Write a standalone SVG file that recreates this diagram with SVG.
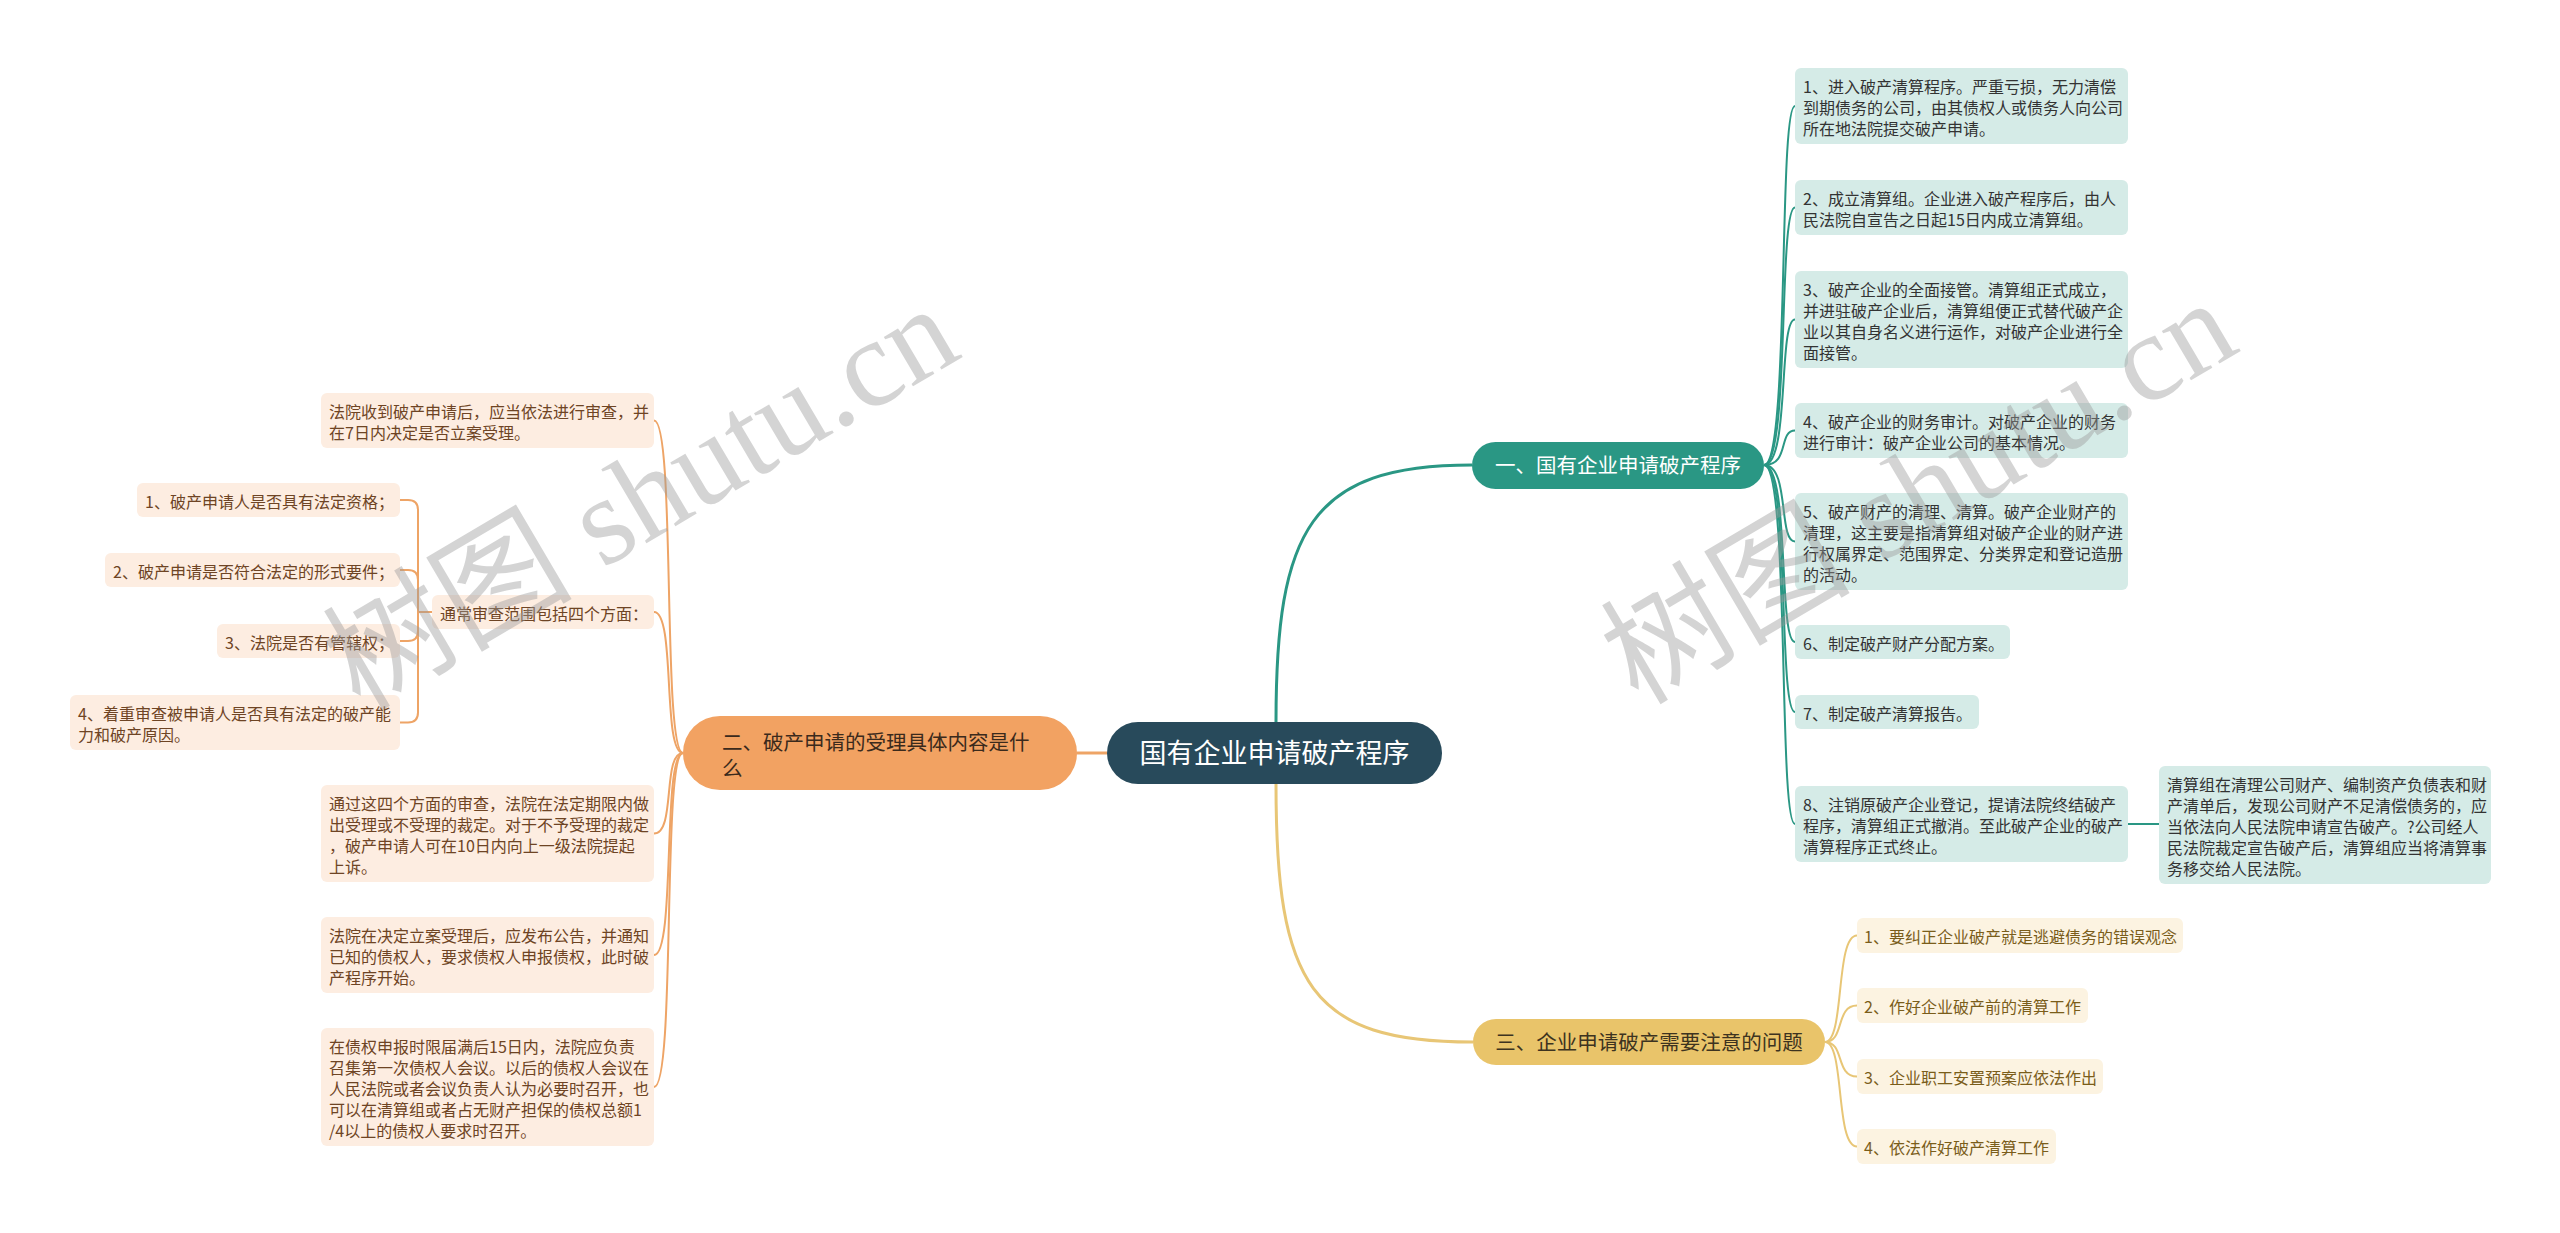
<svg xmlns="http://www.w3.org/2000/svg" width="2560" height="1233" viewBox="0 0 2560 1233">
<style>
text{font-family:"Noto Sans CJK SC","Noto Sans",sans-serif}
.t{font-size:16px}
.tr{fill:#333333}
.tl{fill:#6e4424}
.tg{fill:#7a5d1a}
.br{font-size:20.5px}
.fr{fill:#d5ebe7}
.fl{fill:#fdede1}
.fg{fill:#fcf3e1}
.ct{fill:none;stroke:#2a9784;stroke-width:2}
.co{fill:none;stroke:#eea466;stroke-width:2}
.cg{fill:none;stroke:#e8c676;stroke-width:2}
.wm{font-family:"Liberation Serif","Noto Sans CJK SC",serif;font-size:125px;fill:#9a9a9a;opacity:0.42}
</style>
<rect width="2560" height="1233" fill="#ffffff"/>
<g id="connectors">
<path d="M1276 722 C1276 530 1310 465 1472 465" fill="none" stroke="#2a9784" stroke-width="3"/>
<path d="M1276 784 C1276 985 1310 1042 1473 1042" fill="none" stroke="#e8c676" stroke-width="3"/>
<path d="M1107 753 L1077 753" fill="none" stroke="#eea466" stroke-width="3"/>
<path class="ct" d="M1764 465 C1790 465 1778 106 1795 106"/>
<path class="ct" d="M1764 465 C1790 465 1778 207.5 1795 207.5"/>
<path class="ct" d="M1764 465 C1790 465 1778 319.5 1795 319.5"/>
<path class="ct" d="M1764 465 C1790 465 1778 430.5 1795 430.5"/>
<path class="ct" d="M1764 465 C1790 465 1778 541.5 1795 541.5"/>
<path class="ct" d="M1764 465 C1790 465 1778 642 1795 642"/>
<path class="ct" d="M1764 465 C1790 465 1778 712 1795 712"/>
<path class="ct" d="M1764 465 C1790 465 1778 824 1795 824"/>
<path class="ct" d="M2128 824 L2159 824" stroke-width="3"/>
<path class="cg" d="M1825 1042 C1845 1042 1835 935.5 1857 935.5"/>
<path class="cg" d="M1825 1042 C1845 1042 1835 1005.5 1857 1005.5"/>
<path class="cg" d="M1825 1042 C1845 1042 1835 1076.5 1857 1076.5"/>
<path class="cg" d="M1825 1042 C1845 1042 1835 1146.5 1857 1146.5"/>
<path class="co" d="M683 753 C662 753 676 420.5 654 420.5"/>
<path class="co" d="M683 753 C662 753 676 612 654 612"/>
<path class="co" d="M683 753 C662 753 676 833.5 654 833.5"/>
<path class="co" d="M683 753 C662 753 676 955 654 955"/>
<path class="co" d="M683 753 C662 753 676 1087 654 1087"/>
<path class="co" d="M432 612 L418 612"/>
<path class="co" d="M418 612 L418 510 Q418 500 408 500 L400 500"/>
<path class="co" d="M418 612 L418 580 Q418 570 408 570 L400 570"/>
<path class="co" d="M418 612 L418 631 Q418 641 408 641 L400 641"/>
<path class="co" d="M418 612 L418 712.5 Q418 722.5 408 722.5 L400 722.5"/>
</g>
<g id="center">
<rect x="1107" y="722" width="335" height="62" rx="31" fill="#284a5b"/>
<text x="1274.5" y="763" font-size="27" fill="#ffffff" text-anchor="middle">国有企业申请破产程序</text>
</g>
<g id="branch1">
<rect x="1472" y="442" width="292" height="47" rx="23.5" fill="#2a9784"/>
<text class="br" x="1618" y="472.5" fill="#ffffff" text-anchor="middle">一、国有企业申请破产程序</text>
</g>
<g id="branch2">
<rect x="683" y="716" width="394" height="74" rx="37" fill="#f2a262"/>
<text class="br" fill="#3b2a1c"><tspan x="722" y="749.5">二、破产申请的受理具体内容是什</tspan><tspan x="722" y="776">么</tspan></text>
</g>
<g id="branch3">
<rect x="1473" y="1019" width="352" height="46" rx="23" fill="#e9c46a"/>
<text class="br" x="1649" y="1049.5" fill="#3d3320" text-anchor="middle">三、企业申请破产需要注意的问题</text>
</g>
<g id="r1"><rect class="fr" x="1795" y="68" width="333" height="76" rx="6"/><text class="t tr"><tspan x="1803" y="92.5">1、进入破产清算程序。严重亏损，无力清偿</tspan><tspan x="1803" y="113.5">到期债务的公司，由其债权人或债务人向公司</tspan><tspan x="1803" y="134.5">所在地法院提交破产申请。</tspan></text></g>
<g id="r2"><rect class="fr" x="1795" y="180" width="333" height="55" rx="6"/><text class="t tr"><tspan x="1803" y="204.5">2、成立清算组。企业进入破产程序后，由人</tspan><tspan x="1803" y="225.5">民法院自宣告之日起15日内成立清算组。</tspan></text></g>
<g id="r3"><rect class="fr" x="1795" y="271" width="333" height="97" rx="6"/><text class="t tr"><tspan x="1803" y="295.5">3、破产企业的全面接管。清算组正式成立，</tspan><tspan x="1803" y="316.5">并进驻破产企业后，清算组便正式替代破产企</tspan><tspan x="1803" y="337.5">业以其自身名义进行运作，对破产企业进行全</tspan><tspan x="1803" y="358.5">面接管。</tspan></text></g>
<g id="r4"><rect class="fr" x="1795" y="403" width="333" height="55" rx="6"/><text class="t tr"><tspan x="1803" y="427.5">4、破产企业的财务审计。对破产企业的财务</tspan><tspan x="1803" y="448.5">进行审计：破产企业公司的基本情况。</tspan></text></g>
<g id="r5"><rect class="fr" x="1795" y="493" width="333" height="97" rx="6"/><text class="t tr"><tspan x="1803" y="517.5">5、破产财产的清理、清算。破产企业财产的</tspan><tspan x="1803" y="538.5">清理，这主要是指清算组对破产企业的财产进</tspan><tspan x="1803" y="559.5">行权属界定、范围界定、分类界定和登记造册</tspan><tspan x="1803" y="580.5">的活动。</tspan></text></g>
<g id="r6"><rect class="fr" x="1795" y="625" width="215" height="34" rx="6"/><text class="t tr" x="1803" y="649.5">6、制定破产财产分配方案。</text></g>
<g id="r7"><rect class="fr" x="1795" y="695" width="184" height="34" rx="6"/><text class="t tr" x="1803" y="719.5">7、制定破产清算报告。</text></g>
<g id="r8"><rect class="fr" x="1795" y="786" width="333" height="76" rx="6"/><text class="t tr"><tspan x="1803" y="810.5">8、注销原破产企业登记，提请法院终结破产</tspan><tspan x="1803" y="831.5">程序，清算组正式撤消。至此破产企业的破产</tspan><tspan x="1803" y="852.5">清算程序正式终止。</tspan></text></g>
<g id="r8d"><rect class="fr" x="2159" y="766" width="332" height="118" rx="6"/><text class="t tr"><tspan x="2167" y="790.5">清算组在清理公司财产、编制资产负债表和财</tspan><tspan x="2167" y="811.5">产清单后，发现公司财产不足清偿债务的，应</tspan><tspan x="2167" y="832.5">当依法向人民法院申请宣告破产。?公司经人</tspan><tspan x="2167" y="853.5">民法院裁定宣告破产后，清算组应当将清算事</tspan><tspan x="2167" y="874.5">务移交给人民法院。</tspan></text></g>
<g id="g1"><rect class="fg" x="1857" y="918" width="326" height="35" rx="6"/><text class="t tg" x="1864" y="943">1、要纠正企业破产就是逃避债务的错误观念</text></g>
<g id="g2"><rect class="fg" x="1857" y="988" width="231" height="35" rx="6"/><text class="t tg" x="1864" y="1013">2、作好企业破产前的清算工作</text></g>
<g id="g3"><rect class="fg" x="1857" y="1059" width="246" height="35" rx="6"/><text class="t tg" x="1864" y="1084">3、企业职工安置预案应依法作出</text></g>
<g id="g4"><rect class="fg" x="1857" y="1129" width="199" height="35" rx="6"/><text class="t tg" x="1864" y="1154">4、依法作好破产清算工作</text></g>
<g id="lA"><rect class="fl" x="321" y="393" width="333" height="55" rx="6"/><text class="t tl"><tspan x="329" y="417.5">法院收到破产申请后，应当依法进行审查，并</tspan><tspan x="329" y="438.5">在7日内决定是否立案受理。</tspan></text></g>
<g id="lB"><rect class="fl" x="432" y="595" width="222" height="34" rx="6"/><text class="t tl" x="440" y="619.5">通常审查范围包括四个方面：</text></g>
<g id="lB1"><rect class="fl" x="137" y="483" width="263" height="34" rx="6"/><text class="t tl" x="145" y="507.5">1、破产申请人是否具有法定资格；</text></g>
<g id="lB2"><rect class="fl" x="105" y="553" width="295" height="34" rx="6"/><text class="t tl" x="113" y="577.5">2、破产申请是否符合法定的形式要件；</text></g>
<g id="lB3"><rect class="fl" x="217" y="624" width="183" height="34" rx="6"/><text class="t tl" x="225" y="648.5">3、法院是否有管辖权；</text></g>
<g id="lB4"><rect class="fl" x="70" y="695" width="330" height="55" rx="6"/><text class="t tl"><tspan x="78" y="719.5">4、着重审查被申请人是否具有法定的破产能</tspan><tspan x="78" y="740.5">力和破产原因。</tspan></text></g>
<g id="lC"><rect class="fl" x="321" y="785" width="333" height="97" rx="6"/><text class="t tl"><tspan x="329" y="809.5">通过这四个方面的审查，法院在法定期限内做</tspan><tspan x="329" y="830.5">出受理或不受理的裁定。对于不予受理的裁定</tspan><tspan x="329" y="851.5">，破产申请人可在10日内向上一级法院提起</tspan><tspan x="329" y="872.5">上诉。</tspan></text></g>
<g id="lD"><rect class="fl" x="321" y="917" width="333" height="76" rx="6"/><text class="t tl"><tspan x="329" y="941.5">法院在决定立案受理后，应发布公告，并通知</tspan><tspan x="329" y="962.5">已知的债权人，要求债权人申报债权，此时破</tspan><tspan x="329" y="983.5">产程序开始。</tspan></text></g>
<g id="lE"><rect class="fl" x="321" y="1028" width="333" height="118" rx="6"/><text class="t tl"><tspan x="329" y="1052.5">在债权申报时限届满后15日内，法院应负责</tspan><tspan x="329" y="1073.5">召集第一次债权人会议。以后的债权人会议在</tspan><tspan x="329" y="1094.5">人民法院或者会议负责人认为必要时召开，也</tspan><tspan x="329" y="1115.5">可以在清算组或者占无财产担保的债权总额1</tspan><tspan x="329" y="1136.5">/4以上的债权人要求时召开。</tspan></text></g>
<g id="watermark">
<text class="wm" transform="translate(360 712) rotate(-30.5)">树图 shutu.cn</text>
<text class="wm" transform="translate(1638 706) rotate(-30.5)">树图 shutu.cn</text>
</g>
</svg>
